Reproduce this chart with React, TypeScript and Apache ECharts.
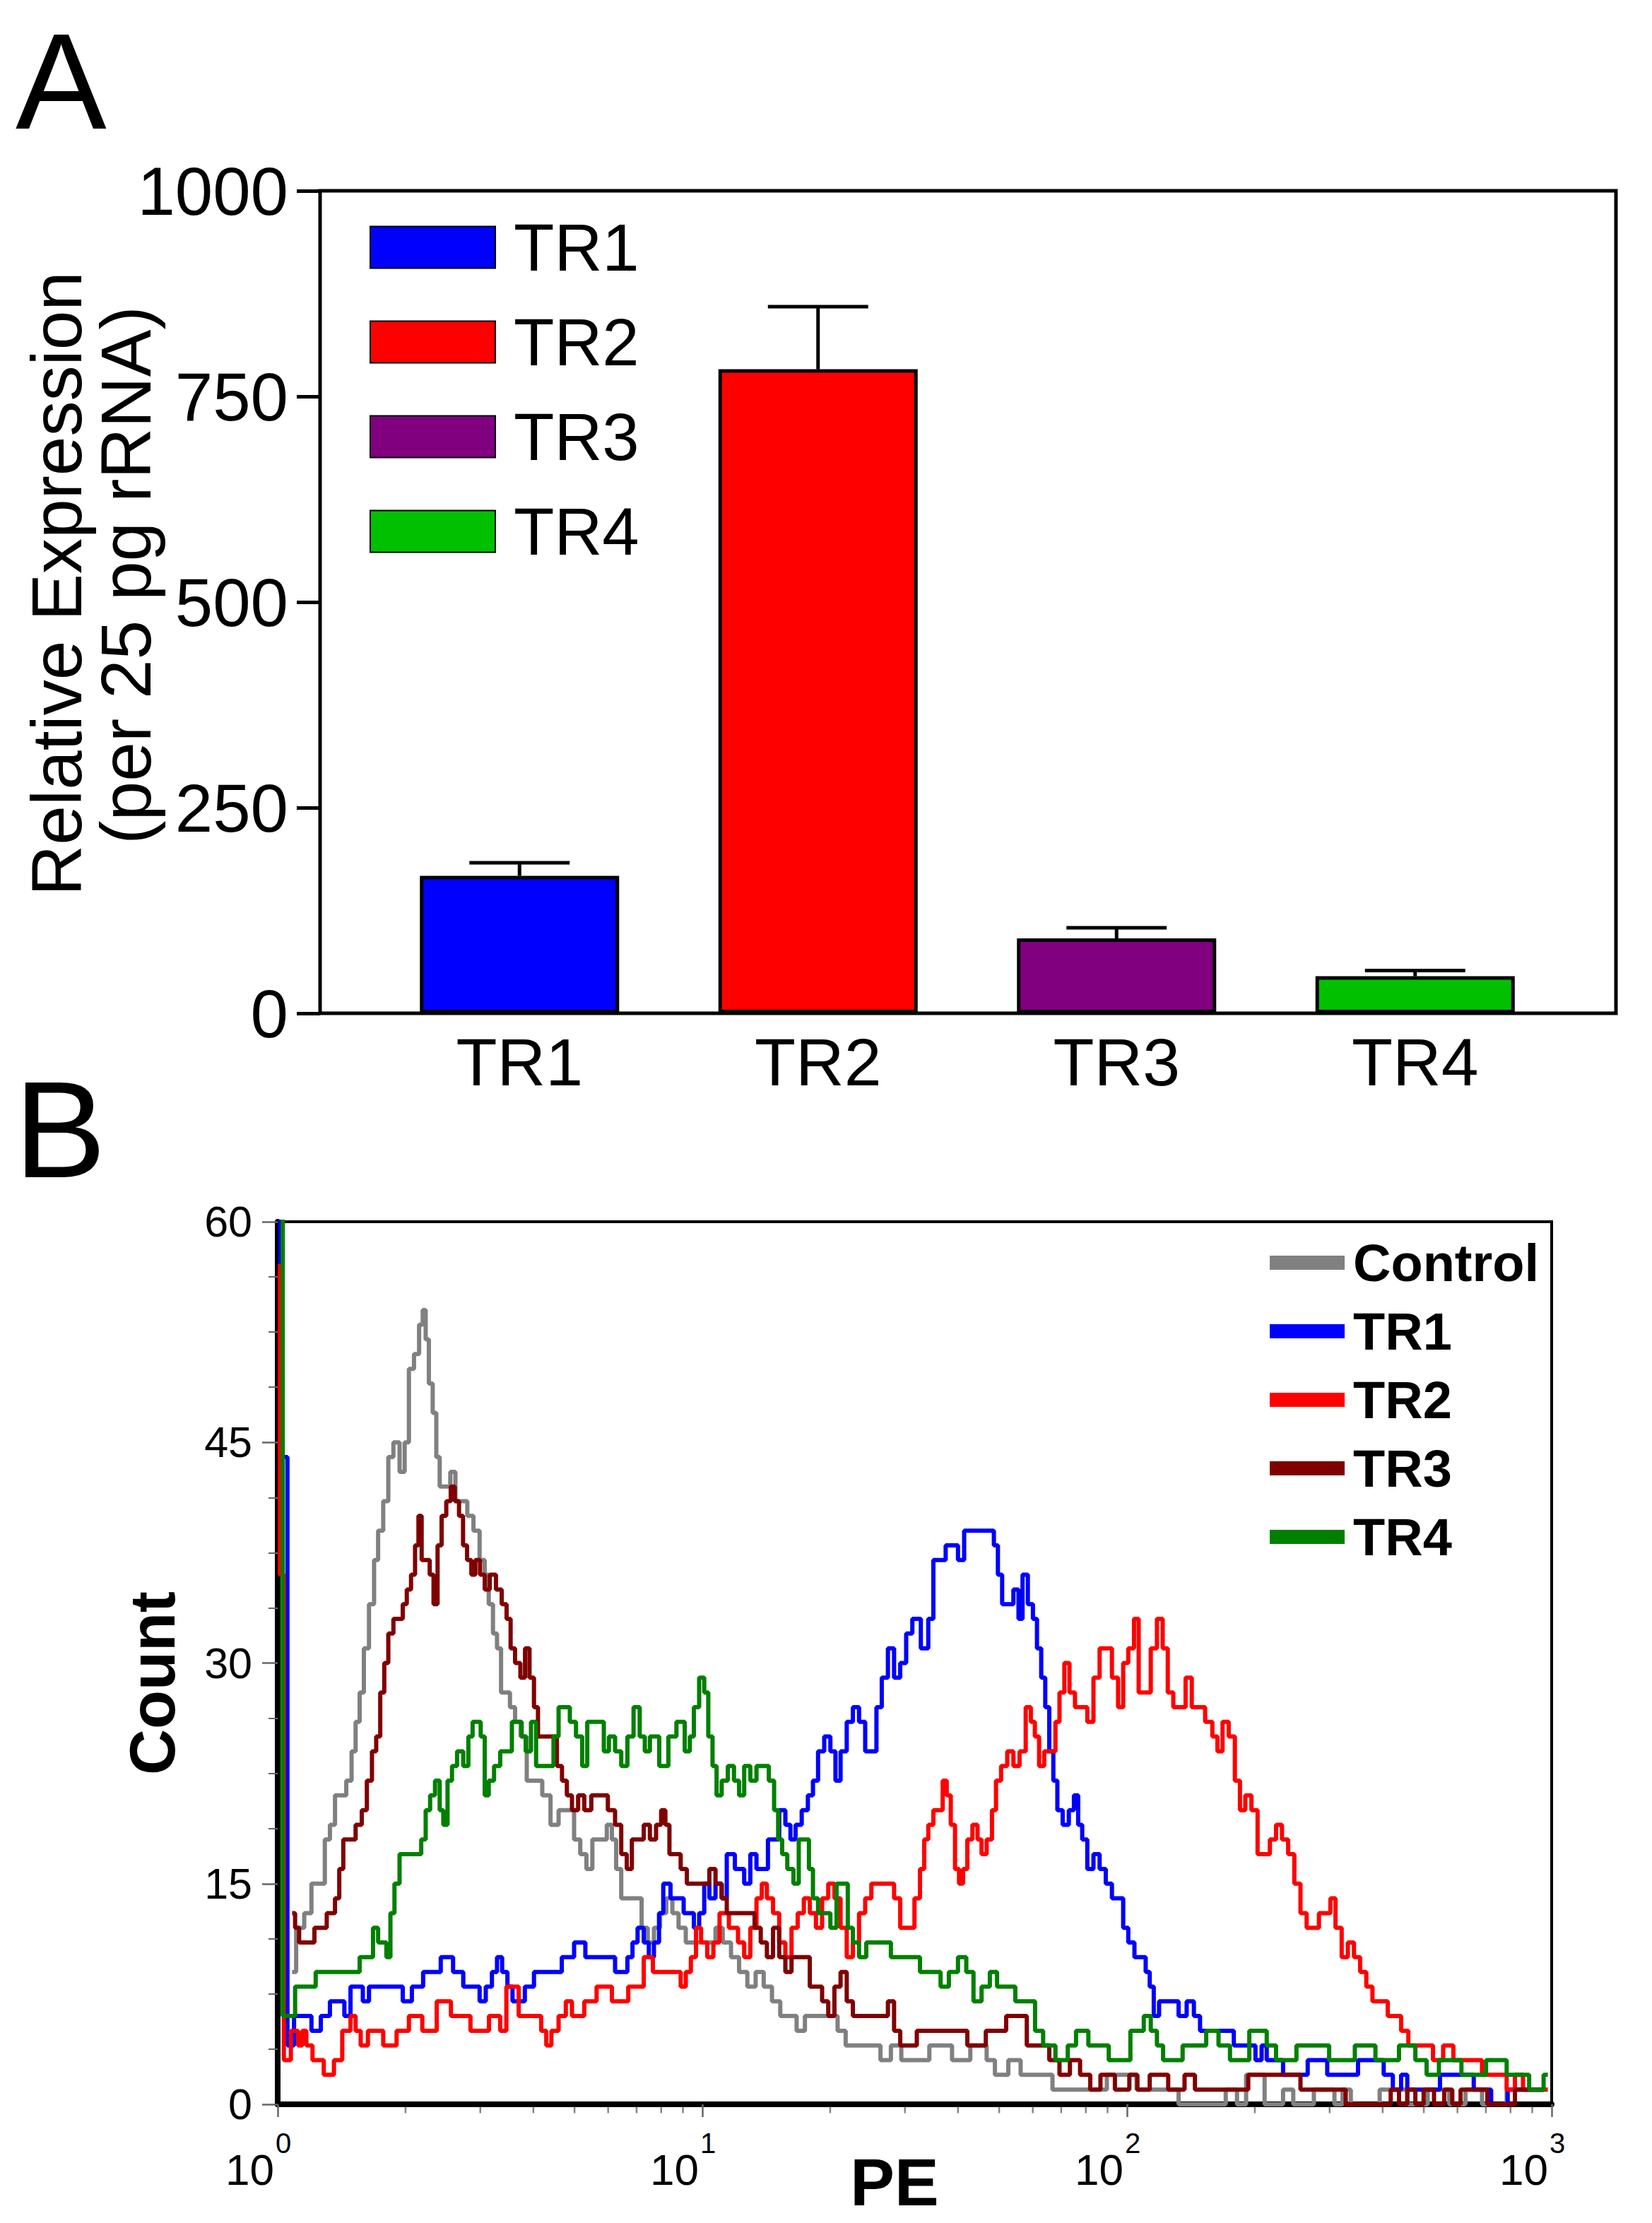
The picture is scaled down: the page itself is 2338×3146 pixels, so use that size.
import React, { useEffect, useRef } from "react";
import * as echarts from "echarts";

const FONT = '"Liberation Sans", Arial, Helvetica, sans-serif';

// ---------- Panel A ----------
const barCategories = ["TR1", "TR2", "TR3", "TR4"];
const barValues = [167, 783, 91, 45];
const barErrors = [16, 76, 13, 7];
const barColors = ["#0000FF", "#FF0000", "#800080", "#00C000"];
const yTicksA = [0, 250, 500, 750, 1000];

// ---------- Panel B ----------
// pairs: [log10(PE), count]
const controlHist: [number, number][] = [
  [0.034, 9], [0.053, 12], [0.072, 13], [0.087, 15], [0.106, 15], [0.116, 18], [0.13, 19], [0.14, 21], [0.154, 21], [0.169, 22],
  [0.179, 24], [0.188, 26], [0.198, 28], [0.208, 31], [0.222, 34], [0.232, 37], [0.241, 39], [0.256, 41], [0.265, 44], [0.28, 45],
  [0.294, 43], [0.304, 45], [0.314, 50], [0.328, 51], [0.338, 53], [0.345, 54], [0.352, 52], [0.36, 49], [0.37, 47], [0.377, 44],
  [0.386, 42], [0.401, 42], [0.412, 43], [0.425, 41], [0.439, 41], [0.454, 40], [0.468, 39], [0.483, 37], [0.492, 36], [0.502, 34],
  [0.512, 32], [0.521, 31], [0.531, 28], [0.541, 28], [0.553, 27], [0.565, 26], [0.579, 25], [0.594, 22], [0.613, 22], [0.633, 21],
  [0.652, 19], [0.671, 20], [0.691, 20], [0.705, 18], [0.72, 17], [0.734, 16], [0.748, 18], [0.768, 18], [0.782, 19], [0.792, 18],
  [0.802, 16], [0.816, 14], [0.835, 14], [0.85, 14], [0.864, 12], [0.879, 11], [0.893, 12], [0.908, 13], [0.922, 14], [0.937, 13],
  [0.951, 12], [0.971, 11], [0.99, 11], [1.009, 11], [1.024, 11], [1.038, 12], [1.058, 11], [1.077, 10], [1.096, 9], [1.116, 8],
  [1.135, 9], [1.154, 8], [1.174, 7], [1.193, 6], [1.212, 6], [1.232, 5], [1.251, 6], [1.27, 6], [1.289, 6], [1.309, 6],
  [1.328, 5], [1.347, 4], [1.376, 4], [1.405, 4], [1.434, 3], [1.454, 4], [1.483, 3],
  [1.493, 3], [1.576, 4], [1.6, 3], [1.662, 4], [1.677, 3], [1.701, 2], [1.74, 3], [1.759, 2], [1.89, 1], [2.015, 2],
  [2.03, 1], [2.213, 0], [2.252, 1], [2.266, 0], [2.295, 2], [2.353, 0], [2.382, 1], [2.401, 0], [2.479, 1], [2.498, 0],
  [2.517, 1], [2.537, 0], [2.653, 1], [2.667, 0], [2.749, 1], [2.768, 0], [2.826, 1], [2.846, 0], [2.942, 1], [2.981, 1],
];

const tr1Hist: [number, number][] = [
  [0.0, 62], [0.012, 44], [0.034, 4], [0.043, 6], [0.058, 6], [0.072, 6], [0.087, 5], [0.116, 6], [0.13, 7], [0.15, 7],
  [0.164, 6], [0.179, 8], [0.193, 8], [0.208, 7], [0.222, 8], [0.285, 8], [0.304, 7], [0.328, 8], [0.357, 9], [0.377, 9],
  [0.391, 10], [0.406, 10], [0.42, 9], [0.454, 8], [0.468, 8], [0.483, 7], [0.497, 8], [0.512, 9], [0.521, 10], [0.536, 9],
  [0.546, 8], [0.56, 7], [0.575, 7], [0.589, 8], [0.618, 9], [0.662, 9], [0.676, 10], [0.72, 11], [0.729, 10], [0.773, 10],
  [0.816, 9], [0.831, 10], [0.84, 11], [0.855, 12], [0.869, 11], [0.879, 10], [0.893, 11], [0.903, 13], [0.913, 15], [0.937, 14],
  [0.975, 13], [0.985, 12], [1.0, 13], [1.009, 15], [1.024, 14], [1.038, 15], [1.053, 14], [1.062, 17], [1.091, 16], [1.106, 15],
  [1.12, 17], [1.135, 16], [1.174, 18], [1.188, 20], [1.203, 19], [1.212, 18], [1.227, 19], [1.241, 20], [1.256, 21], [1.265, 22],
  [1.28, 24], [1.294, 25], [1.309, 24], [1.318, 22], [1.333, 24], [1.347, 26], [1.362, 27], [1.376, 26], [1.391, 24], [1.405, 24],
  [1.415, 27], [1.43, 29], [1.444, 31], [1.459, 29], [1.473, 30], [1.487, 32], [1.502, 33],
  [1.527, 31], [1.537, 33], [1.551, 37], [1.566, 37], [1.58, 38], [1.595, 38], [1.609, 37], [1.624, 39], [1.638, 39], [1.653, 39],
  [1.682, 39], [1.691, 38], [1.701, 36], [1.711, 34], [1.725, 34], [1.74, 35], [1.749, 33], [1.759, 36], [1.774, 34], [1.783, 33],
  [1.793, 31], [1.803, 29], [1.812, 27], [1.822, 24], [1.831, 22], [1.841, 20], [1.856, 19], [1.87, 20], [1.88, 21], [1.89, 19],
  [1.899, 18], [1.914, 16], [1.928, 17], [1.943, 16], [1.957, 15], [1.972, 14], [1.986, 14], [1.996, 12], [2.01, 11], [2.025, 10],
  [2.039, 10], [2.049, 9], [2.058, 8], [2.068, 6], [2.083, 7], [2.097, 7], [2.112, 7], [2.131, 6], [2.15, 7], [2.165, 6],
  [2.179, 5], [2.237, 5], [2.266, 4], [2.295, 4], [2.31, 3], [2.324, 4], [2.334, 3], [2.401, 2], [2.45, 3], [2.493, 2],
  [2.595, 3], [2.614, 2], [2.638, 1], [2.653, 2], [2.667, 1], [2.807, 2], [2.826, 1], [2.889, 0], [2.904, 1], [2.981, 1],
];

const tr2Hist: [number, number][] = [
  [0.0, 57], [0.01, 36], [0.019, 3], [0.043, 5], [0.053, 4], [0.063, 5], [0.072, 4], [0.092, 3], [0.125, 2], [0.14, 3],
  [0.164, 5], [0.179, 6], [0.188, 5], [0.203, 4], [0.222, 5], [0.275, 4], [0.285, 5], [0.333, 6], [0.348, 5], [0.401, 7],
  [0.415, 6], [0.43, 6], [0.478, 5], [0.517, 6], [0.531, 5], [0.546, 8], [0.56, 8], [0.575, 6], [0.613, 6], [0.628, 5],
  [0.637, 4], [0.652, 5], [0.671, 6], [0.686, 7], [0.7, 6], [0.744, 7], [0.758, 8], [0.816, 7], [0.835, 8], [0.855, 8],
  [0.869, 10], [0.898, 9], [0.942, 9], [0.956, 8], [0.966, 9], [0.98, 10], [0.99, 12], [1.004, 11], [1.019, 10], [1.033, 11],
  [1.048, 13], [1.077, 12], [1.091, 11], [1.106, 10], [1.12, 12], [1.135, 14], [1.145, 15], [1.159, 14], [1.174, 13], [1.188, 11],
  [1.203, 10], [1.217, 12], [1.232, 13], [1.246, 14], [1.26, 13], [1.275, 12], [1.289, 14], [1.304, 15], [1.318, 14], [1.333, 12],
  [1.347, 10], [1.362, 11], [1.376, 13], [1.391, 14], [1.405, 15], [1.444, 15], [1.459, 14], [1.473, 12], [1.492, 12], [1.507, 14],
  [1.518, 16], [1.527, 18], [1.537, 19], [1.551, 20], [1.561, 20], [1.571, 22], [1.58, 21], [1.59, 19], [1.6, 16], [1.609, 15],
  [1.619, 16], [1.629, 18], [1.643, 19], [1.653, 18], [1.662, 17], [1.677, 18], [1.687, 20], [1.696, 22], [1.711, 23], [1.725, 24],
  [1.74, 23], [1.754, 24], [1.769, 27], [1.778, 26], [1.788, 25], [1.798, 23], [1.812, 24], [1.827, 24], [1.836, 26], [1.846, 28],
  [1.859, 30], [1.87, 28], [1.885, 27], [1.899, 27], [1.914, 26], [1.928, 29], [1.943, 31], [1.957, 31], [1.972, 29], [1.986, 27],
  [1.996, 30], [2.01, 31], [2.023, 33], [2.032, 28], [2.049, 28], [2.063, 31], [2.078, 33], [2.09, 31], [2.102, 28], [2.116, 27],
  [2.131, 27], [2.145, 29], [2.16, 27], [2.174, 27], [2.194, 26], [2.208, 25], [2.218, 24], [2.232, 26], [2.247, 25], [2.261, 22],
  [2.271, 20], [2.286, 21], [2.3, 20], [2.315, 17], [2.329, 17], [2.344, 18], [2.358, 19], [2.372, 18], [2.387, 17], [2.401, 15],
  [2.416, 13], [2.43, 12], [2.445, 12], [2.459, 13], [2.474, 13], [2.484, 14], [2.498, 12], [2.513, 10], [2.527, 11], [2.542, 10],
  [2.556, 9], [2.571, 8], [2.585, 7], [2.604, 7], [2.624, 6], [2.638, 6], [2.653, 5], [2.672, 4], [2.691, 4], [2.711, 4],
  [2.73, 3], [2.759, 4], [2.778, 3], [2.826, 3], [2.846, 2], [2.884, 2], [2.904, 1], [2.923, 2], [2.942, 1], [2.991, 1],
];

const tr3Hist: [number, number][] = [
  [0.034, 13], [0.048, 12], [0.053, 11], [0.072, 11], [0.101, 12], [0.13, 13], [0.14, 14], [0.15, 16], [0.159, 18], [0.174, 18],
  [0.193, 19], [0.203, 20], [0.217, 22], [0.227, 24], [0.237, 25], [0.246, 28], [0.256, 30], [0.265, 32], [0.28, 33], [0.29, 33],
  [0.299, 34], [0.309, 35], [0.319, 36], [0.328, 38], [0.335, 40], [0.343, 37], [0.354, 37], [0.362, 36], [0.372, 34], [0.381, 38],
  [0.391, 40], [0.403, 41], [0.412, 42], [0.422, 41], [0.432, 40], [0.441, 38], [0.451, 37], [0.461, 36], [0.47, 37], [0.483, 36],
  [0.492, 35], [0.507, 36], [0.521, 35], [0.534, 34], [0.544, 33], [0.553, 31], [0.565, 30], [0.578, 29], [0.587, 31], [0.599, 29],
  [0.608, 27], [0.618, 25], [0.633, 25], [0.652, 25], [0.663, 23], [0.676, 22], [0.686, 21], [0.7, 20], [0.715, 21], [0.729, 20],
  [0.748, 21], [0.768, 21], [0.787, 20], [0.802, 19], [0.816, 17], [0.828, 16], [0.84, 18], [0.855, 18], [0.869, 19], [0.884, 18],
  [0.898, 19], [0.908, 20], [0.918, 19], [0.927, 17], [0.942, 17], [0.956, 16], [0.971, 15], [0.98, 15], [0.995, 15], [1.009, 15],
  [1.024, 16], [1.038, 15], [1.053, 14], [1.062, 13], [1.082, 13], [1.101, 13], [1.116, 13], [1.13, 12], [1.145, 11], [1.159, 10],
  [1.174, 12], [1.188, 10], [1.203, 9], [1.217, 10], [1.232, 10], [1.246, 10], [1.26, 8], [1.275, 8], [1.289, 7], [1.304, 6],
  [1.318, 8], [1.333, 9], [1.347, 7], [1.362, 6], [1.376, 6], [1.396, 6], [1.415, 6], [1.43, 6], [1.444, 7], [1.459, 5],
  [1.473, 4], [1.497, 4],
  [1.513, 5], [1.551, 5], [1.59, 5], [1.658, 4], [1.677, 5], [1.754, 6], [1.774, 4], [1.803, 4], [1.831, 3], [1.851, 2],
  [1.88, 3], [1.899, 2], [1.928, 1], [1.947, 2], [1.996, 1], [2.015, 2], [2.034, 1], [2.073, 2], [2.121, 1], [2.15, 2],
  [2.17, 1], [2.401, 2], [2.416, 1], [2.614, 0], [2.628, 1], [2.653, 0], [2.667, 1], [2.691, 0], [2.706, 1], [2.74, 0],
  [2.754, 1], [2.778, 0], [2.793, 1], [2.904, 0], [2.923, 1], [2.981, 1],
];

const tr4Hist: [number, number][] = [
  [0.0, 65], [0.024, 6], [0.058, 8], [0.121, 9], [0.188, 9], [0.198, 10], [0.217, 10], [0.232, 12], [0.241, 11], [0.251, 11],
  [0.261, 10], [0.27, 13], [0.28, 15], [0.294, 17], [0.314, 17], [0.333, 17], [0.343, 18], [0.354, 20], [0.364, 21], [0.377, 22],
  [0.386, 20], [0.394, 19], [0.406, 22], [0.415, 23], [0.43, 24], [0.444, 23], [0.454, 25], [0.464, 26], [0.473, 26], [0.483, 25],
  [0.492, 21], [0.502, 22], [0.517, 23], [0.531, 24], [0.546, 24], [0.557, 26], [0.57, 26], [0.579, 25], [0.589, 24], [0.604, 26],
  [0.613, 23], [0.642, 23], [0.657, 25], [0.666, 27], [0.681, 27], [0.695, 26], [0.71, 25], [0.724, 23], [0.734, 26], [0.763, 26],
  [0.773, 24], [0.787, 25], [0.802, 24], [0.816, 23], [0.831, 25], [0.845, 27], [0.86, 25], [0.869, 24], [0.884, 25], [0.913, 23],
  [0.927, 25], [0.951, 26], [0.966, 24], [0.975, 25], [0.985, 27], [1.0, 29], [1.009, 28], [1.019, 25], [1.029, 23], [1.038, 21],
  [1.053, 22], [1.067, 23], [1.082, 22], [1.091, 21], [1.106, 23], [1.12, 22], [1.135, 23], [1.149, 23], [1.164, 22], [1.174, 20],
  [1.183, 18], [1.193, 17], [1.207, 16], [1.222, 15], [1.232, 18], [1.246, 18], [1.256, 16], [1.265, 14], [1.28, 13], [1.294, 13],
  [1.309, 12], [1.323, 15], [1.338, 15], [1.347, 12], [1.362, 11], [1.376, 10], [1.396, 11], [1.434, 11], [1.454, 10], [1.473, 10],
  [1.487, 10],
  [1.493, 10], [1.532, 9], [1.551, 9], [1.571, 8], [1.59, 9], [1.614, 10], [1.629, 9], [1.648, 7], [1.667, 8], [1.687, 9],
  [1.701, 8], [1.725, 8], [1.749, 7], [1.774, 7], [1.793, 5], [1.812, 4], [1.851, 3], [1.87, 4], [1.89, 5], [1.928, 4],
  [1.986, 3], [2.03, 5], [2.049, 6], [2.063, 5], [2.078, 4], [2.092, 3], [2.17, 4], [2.203, 5], [2.228, 4], [2.257, 3],
  [2.319, 5], [2.339, 4], [2.363, 3], [2.435, 4], [2.517, 3], [2.556, 4], [2.614, 3], [2.667, 4], [2.691, 3], [2.72, 2],
  [2.749, 3], [2.826, 2], [2.865, 3], [2.923, 2], [2.971, 1], [2.991, 2],
];

const histNames = ["Control", "TR1", "TR2", "TR3", "TR4"];
const histColors = ["#808080", "#0000FF", "#FF0000", "#800000", "#008000"];
const histData = [controlHist, tr1Hist, tr2Hist, tr3Hist, tr4Hist];
const minorTickPE = [2, 3, 4, 5, 6, 7, 8, 9, 20, 30, 40, 50, 60, 70, 80, 90, 200, 300, 400, 500, 600, 700, 800, 900];
const SUFFIX = " (PE)";

function buildOption(): any {
  const barSeries = barCategories.map((name, i) => ({
    type: "bar",
    name,
    xAxisIndex: 1,
    yAxisIndex: 1,
    data: barValues.map((v, j) => (j === i ? v : null)),
    barWidth: 282,
    barGap: "-100%",
    itemStyle: { color: barColors[i], borderColor: "#000", borderWidth: 5 },
    z: 2,
  }));

  const errorSeries = {
    type: "custom",
    name: "errors",
    xAxisIndex: 1,
    yAxisIndex: 1,
    data: barValues.map((v, i) => [i, v, barErrors[i]]),
    z: 5,
    renderItem: (params: any, api: any) => {
      const i = api.value(0);
      const v = api.value(1);
      const e = api.value(2);
      const p0 = api.coord([i, v]);
      const p1 = api.coord([i, v + e]);
      const w = api.size([1, 0])[0] * 0.336;
      return {
        type: "group",
        children: [
          { type: "line", shape: { x1: p0[0], y1: p0[1], x2: p1[0], y2: p1[1] }, style: { stroke: "#000", lineWidth: 5 } },
          { type: "line", shape: { x1: p1[0] - w / 2, y1: p1[1], x2: p1[0] + w / 2, y2: p1[1] }, style: { stroke: "#000", lineWidth: 5 } },
        ],
      };
    },
  };

  const histSeries = histNames.map((name, i) => ({
    type: "line",
    name: name === "Control" ? name : name + SUFFIX,
    xAxisIndex: 2,
    yAxisIndex: 2,
    step: "middle",
    showSymbol: false,
    symbol: "none",
    clip: true,
    data: histData[i].map(([l, c]) => [Math.pow(10, l), c]),
    lineStyle: { color: histColors[i], width: 6 },
    itemStyle: { color: histColors[i] },
    z: 3 + i,
  }));

  const minorTickSeries = {
    type: "scatter",
    name: "minorTicks",
    xAxisIndex: 2,
    yAxisIndex: 2,
    data: minorTickPE.map((v) => [v, 0]),
    symbol: "rect",
    symbolSize: [2.5, 9],
    symbolOffset: [0, 8],
    itemStyle: { color: "#666" },
    silent: true,
    clip: false,
    z: 1,
  };

  return {
    animation: false,
    backgroundColor: "#fff",
    textStyle: { fontFamily: FONT },
    grid: [
      { left: 453, top: 270, width: 1834, height: 1164, show: true, borderColor: "#000", borderWidth: 5, backgroundColor: "transparent" },
      { left: 524, top: 270, width: 1690, height: 1164, show: false },
      { left: 393, top: 1729, width: 1803, height: 1249, show: true, borderColor: "#000", borderWidth: 4, backgroundColor: "transparent" },
    ],
    xAxis: [
      { gridIndex: 0, type: "value", show: false, min: 0, max: 1 },
      {
        gridIndex: 1,
        type: "category",
        data: barCategories,
        axisLine: { show: false },
        axisTick: { show: false },
        axisLabel: { fontSize: 95, fontFamily: FONT, color: "#000", margin: 21 },
        splitLine: { show: false },
      },
      {
        gridIndex: 2,
        type: "log",
        logBase: 10,
        min: 1,
        max: 1000,
        position: "bottom",
        axisLine: { show: true, lineStyle: { color: "#000", width: 8 } },
        axisTick: { show: true, length: 18, lineStyle: { color: "#666", width: 2.5 } },
        axisLabel: {
          formatter: () => "10",
          align: "right",
          fontSize: 62,
          lineHeight: 44,
          fontFamily: FONT,
          color: "#000",
          margin: 70,
          padding: [0, 5, 0, 0],
        },
        splitLine: { show: false },
      },
      {
        gridIndex: 2,
        type: "log",
        logBase: 10,
        min: 1,
        max: 1000,
        position: "bottom",
        axisLine: { show: false },
        axisTick: { show: false },
        axisLabel: {
          formatter: (v: number) => String(Math.round(Math.log10(v))),
          align: "left",
          fontSize: 40,
          lineHeight: 28,
          fontFamily: FONT,
          color: "#000",
          margin: 41,
          padding: [0, 0, 0, -3],
        },
        splitLine: { show: false },
      },
    ],
    yAxis: [
      { gridIndex: 0, type: "value", show: false, min: 0, max: 1 },
      {
        gridIndex: 1,
        type: "value",
        min: yTicksA[0],
        max: yTicksA[yTicksA.length - 1],
        interval: 250,
        offset: 71,
        axisLine: { show: false },
        axisTick: { show: true, length: 33, lineStyle: { color: "#000", width: 5 } },
        axisLabel: { fontSize: 96, fontFamily: FONT, color: "#000", margin: 45, formatter: (v: number) => String(v) },
        splitLine: { show: false },
      },
      {
        gridIndex: 2,
        type: "value",
        min: 0,
        max: 60,
        interval: 15,
        axisLine: { show: true, lineStyle: { color: "#000", width: 8 } },
        axisTick: { show: true, length: 22, lineStyle: { color: "#666", width: 2.5 } },
        minorTick: { show: true, splitNumber: 4, length: 13, lineStyle: { color: "#666", width: 2 } },
        axisLabel: { fontSize: 61, fontFamily: FONT, color: "#000", margin: 36 },
        splitLine: { show: false },
        minorSplitLine: { show: false },
      },
    ],
    legend: [
      {
        data: barCategories,
        orient: "vertical",
        left: 518,
        top: 298,
        itemWidth: 177,
        itemHeight: 59,
        itemGap: 40,
        icon: "rect",
        selectedMode: false,
        textStyle: { fontSize: 94, fontFamily: FONT, color: "#000", padding: [0, 0, 0, 21] },
      },
      {
        data: histNames.map((n) => (n === "Control" ? n : n + SUFFIX)),
        formatter: (n: string) => n.replace(SUFFIX, ""),
        orient: "vertical",
        left: 1792,
        top: 1745,
        itemWidth: 106,
        itemHeight: 20,
        itemGap: 23,
        icon: "rect",
        selectedMode: false,
        itemStyle: { borderWidth: 0 },
        textStyle: { fontSize: 74, fontWeight: "bold", fontFamily: FONT, color: "#000", padding: [0, 0, 0, 7] },
      },
    ],
    graphic: [
      { type: "text", x: 22, y: 115, style: { text: "A", fontSize: 193, fontFamily: FONT, fill: "#000", align: "left", verticalAlign: "middle" } },
      { type: "text", x: 20, y: 1598, style: { text: "B", fontSize: 195, fontFamily: FONT, fill: "#000", align: "left", verticalAlign: "middle" } },
      {
        type: "text",
        x: 80,
        y: 826,
        rotation: Math.PI / 2,
        style: { text: "Relative Expression", fontSize: 100, fontFamily: FONT, fill: "#000", align: "center", verticalAlign: "middle" },
      },
      {
        type: "text",
        x: 178,
        y: 814,
        rotation: Math.PI / 2,
        style: { text: "(per 25 pg rRNA)", fontSize: 100, fontFamily: FONT, fill: "#000", align: "center", verticalAlign: "middle" },
      },
      {
        type: "text",
        x: 216,
        y: 2382,
        rotation: Math.PI / 2,
        style: { text: "Count", fontSize: 90, fontWeight: "bold", fontFamily: FONT, fill: "#000", align: "center", verticalAlign: "middle" },
      },
      {
        type: "text",
        x: 1266,
        y: 3088,
        style: { text: "PE", fontSize: 94, fontWeight: "bold", fontFamily: FONT, fill: "#000", align: "center", verticalAlign: "middle" },
      },
    ],
    series: [...barSeries, errorSeries, minorTickSeries, ...histSeries],
  };
}

export default function App() {
  const ref = useRef<HTMLDivElement | null>(null);
  useEffect(() => {
    if (!ref.current) return;
    const chart = echarts.init(ref.current, undefined, { renderer: "svg" });
    chart.setOption(buildOption());
    return () => chart.dispose();
  }, []);
  return (
    <div
      ref={ref}
      style={{ position: "absolute", left: 0, top: 0, width: 2338, height: 3146, background: "#fff" }}
    />
  );
}
